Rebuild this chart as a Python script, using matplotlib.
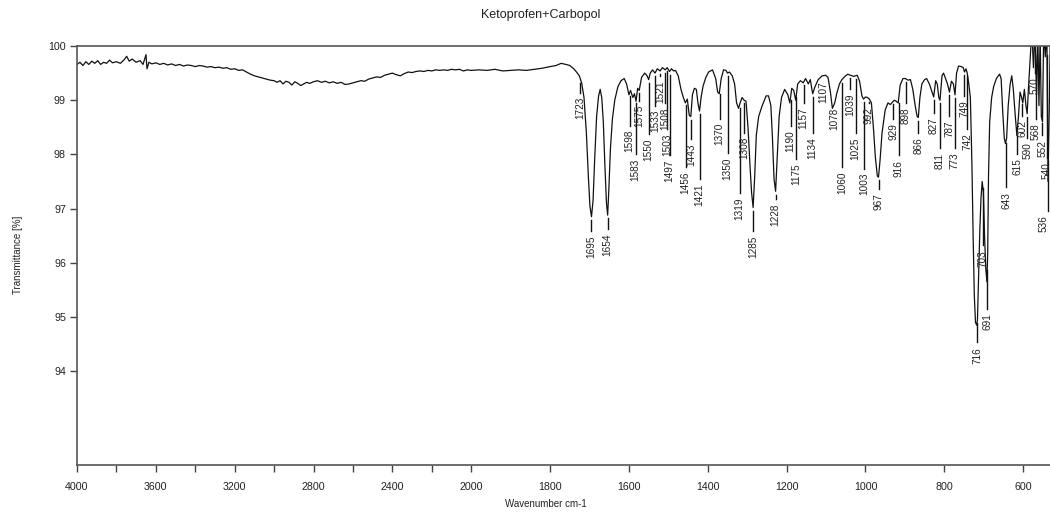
import numpy as np
import matplotlib
matplotlib.use("Agg")
import matplotlib.pyplot as plt
from matplotlib import font_manager

# ---------------- data ----------------
title = "Ketoprofen+Carbopol"
xlabel = "Wavenumber cm-1"
ylabel = "Transmittance [%]"

# high-wavenumber region (4000-1740 cm-1)
wn_high = [4000, 3985, 3970, 3955, 3940, 3925, 3910, 3895, 3880, 3865, 3850, 3835, 3820,
           3800, 3780, 3760, 3748, 3735, 3720, 3700, 3680, 3665, 3650, 3645, 3635, 3620,
           3600, 3580, 3560, 3540, 3520, 3500, 3480, 3460, 3440, 3420, 3400, 3380, 3360,
           3340, 3320, 3300, 3280, 3260, 3240, 3220, 3200, 3180, 3160, 3140, 3120, 3100,
           3080, 3060, 3040, 3020, 3000, 2985, 2970, 2955, 2940, 2925, 2910, 2895, 2880,
           2865, 2850, 2835, 2820, 2800, 2780, 2760, 2740, 2720, 2700, 2680, 2660, 2640,
           2620, 2600, 2580, 2560, 2540, 2520, 2500, 2480, 2460, 2440, 2420, 2400, 2380,
           2360, 2340, 2320, 2300, 2280, 2260, 2240, 2220, 2200, 2180, 2160, 2140, 2120,
           2100, 2080, 2060, 2040, 2020, 2000, 1980, 1960, 1940, 1920, 1900, 1880, 1860,
           1840, 1820, 1800, 1785, 1772, 1760, 1750, 1740]
t_high = [99.66, 99.70, 99.64, 99.71, 99.66, 99.72, 99.68, 99.73, 99.66, 99.70, 99.68, 99.74, 99.69,
          99.71, 99.68, 99.75, 99.81, 99.72, 99.76, 99.70, 99.73, 99.66, 99.84, 99.58, 99.70, 99.67,
          99.69, 99.66, 99.68, 99.65, 99.67, 99.64, 99.66, 99.63, 99.65, 99.64, 99.62, 99.64, 99.63,
          99.61, 99.62, 99.60, 99.61, 99.59, 99.60, 99.57, 99.58, 99.55, 99.56, 99.52, 99.48, 99.45,
          99.43, 99.41, 99.39, 99.37, 99.36, 99.33, 99.36, 99.30, 99.35, 99.33, 99.28, 99.34, 99.31,
          99.27, 99.30, 99.33, 99.31, 99.34, 99.36, 99.33, 99.35, 99.32, 99.34, 99.31, 99.33, 99.29,
          99.30, 99.32, 99.34, 99.36, 99.35, 99.39, 99.41, 99.43, 99.42, 99.46, 99.48, 99.50, 99.47,
          99.45, 99.49, 99.52, 99.51, 99.53, 99.54, 99.53, 99.55, 99.54, 99.56, 99.55, 99.56, 99.55,
          99.57, 99.56, 99.57, 99.54, 99.56, 99.55, 99.56, 99.55, 99.57, 99.54, 99.55, 99.56, 99.55,
          99.57, 99.59, 99.62, 99.64, 99.68, 99.66, 99.64, 99.58]

# fingerprint region (1733-531 cm-1)
wn_low = [1733, 1726, 1720, 1714, 1708, 1703, 1699, 1695, 1691, 1687, 1682, 1677, 1673, 1669,
          1665, 1661, 1657, 1654, 1651, 1647, 1642, 1636, 1628, 1620, 1612, 1606, 1600, 1596,
          1590, 1586, 1582, 1578, 1574, 1568, 1560, 1554, 1550, 1546, 1540, 1534, 1528, 1521,
          1515, 1508, 1503, 1497, 1492, 1487, 1482, 1475, 1468, 1462, 1457, 1452, 1447, 1443,
          1439, 1434, 1429, 1425, 1421, 1417, 1412, 1405, 1398, 1388, 1380, 1375, 1371, 1366,
          1360, 1354, 1350, 1345, 1338, 1332, 1327, 1322, 1318, 1313, 1308, 1303, 1298, 1293,
          1289, 1285, 1281, 1277, 1271, 1262, 1252, 1246, 1240, 1236, 1232, 1228, 1224, 1219,
          1213, 1205, 1197, 1192, 1187, 1182, 1177, 1172, 1165, 1158, 1152, 1145, 1140, 1134,
          1128, 1120, 1110, 1101, 1095, 1089, 1084, 1078, 1073, 1066, 1060, 1052, 1045, 1038,
          1030, 1021, 1015, 1009, 1005, 1000, 995, 990, 985, 980, 975, 970, 967, 963, 958,
          950, 943, 937, 932, 927, 922, 917, 912, 905, 899, 892, 886, 880, 874, 869, 866,
          862, 857, 850, 845, 838, 831, 827, 822, 818, 814, 811, 806, 802, 797, 792, 787,
          782, 777, 773, 769, 764, 757, 752, 749, 745, 742, 738, 734, 730, 727, 724, 721,
          718, 716, 713, 710, 707, 704, 701, 698, 695, 692, 690, 688, 685, 680, 675, 668,
          660, 656, 652, 648, 645, 642, 638, 633, 629, 625, 620, 616, 612, 608, 604, 601,
          597, 593, 590, 586, 582, 578, 574, 570, 566, 563, 560, 557, 554, 551, 548, 544,
          540, 537, 534, 531]
t_low = [99.52, 99.45, 99.32, 99.05, 98.40, 97.60, 97.05, 96.85, 97.15, 97.90, 98.70, 99.08, 99.20, 99.05,
         98.60, 97.80, 97.10, 96.88, 97.35, 98.10, 98.65, 99.00, 99.25, 99.36, 99.40, 99.30, 99.10, 99.18,
         99.05, 99.12, 98.98, 99.22, 99.18, 99.42, 99.50, 99.45, 99.38, 99.50, 99.56, 99.50, 99.58, 99.54,
         99.60, 99.56, 99.60, 99.53, 99.58, 99.54, 99.55, 99.45, 99.20, 99.05, 98.95, 99.02, 98.72, 98.70,
         99.10, 99.22, 99.20, 98.95, 98.80, 99.05, 99.26, 99.42, 99.52, 99.56, 99.40, 99.15, 99.12, 99.40,
         99.56, 99.55, 99.50, 99.52, 99.45, 99.30, 98.95, 98.85, 98.95, 99.05, 99.00, 98.98, 98.50, 97.80,
         97.30, 97.02, 97.60, 98.35, 98.70, 98.90, 99.08, 99.08, 98.90, 98.30, 97.55, 97.32, 97.95, 98.70,
         99.05, 99.20, 99.10, 98.95, 99.22, 99.18, 99.00, 99.30, 99.36, 99.32, 99.40, 99.30, 99.38, 99.12,
         99.25, 99.38, 99.45, 99.46, 99.42, 99.15, 98.85, 98.95, 99.12, 99.30, 99.38, 99.44, 99.48, 99.46,
         99.44, 99.46, 99.35, 99.08, 99.02, 99.06, 99.05, 99.02, 98.95, 98.50, 97.95, 97.60, 97.58, 97.90, 98.40,
         98.82, 98.95, 98.92, 98.96, 99.00, 98.98, 98.95, 99.28, 99.40, 99.40, 99.37, 99.38, 99.20, 98.90, 98.70, 98.68,
         99.05, 99.30, 99.38, 99.40, 99.30, 99.15, 99.06, 99.36, 99.30, 99.05, 99.00, 99.45, 99.50, 99.40, 99.30, 99.15,
         99.35, 99.30, 99.10, 99.50, 99.63, 99.62, 99.60, 99.52, 99.58, 99.50, 99.30, 99.05, 97.80, 96.50, 95.40, 94.90,
         94.85, 94.95, 95.80, 96.60, 97.20, 97.50, 97.30, 96.50, 95.90, 95.65, 96.20, 97.60, 98.60, 99.05, 99.25, 99.40,
         99.48, 99.40, 98.80, 98.30, 98.20, 98.30, 98.90, 99.30, 99.45, 99.20, 98.70, 98.35, 98.70, 99.15, 99.05, 98.95,
         99.20, 98.90, 98.75, 99.30, 99.80, 100.30, 99.60, 100.30, 99.10, 100.30, 98.90, 100.20, 98.70, 98.60, 100.30, 99.80,
         100.30, 97.50, 98.80, 100.30]

wavenumber = wn_high + wn_low
transmittance = t_high + t_low

# peak labels: wavenumber and top of the label text (in % transmittance)
peak_labels = [1723, 1695, 1654, 1598, 1583, 1575, 1550, 1533, 1521, 1508, 1503, 1497,
               1456, 1443, 1421, 1370, 1350, 1319, 1308, 1285, 1228, 1190, 1175, 1157,
               1134, 1107, 1078, 1060, 1039, 1025, 1003, 992, 967, 929, 916, 898, 866,
               827, 811, 787, 773, 749, 742, 716, 703, 691, 643, 615, 602, 590, 570,
               568, 552, 540, 536]
label_top = [99.06, 96.51, 96.55, 98.45, 97.93, 98.91, 98.30, 98.82, 99.36, 98.86, 98.38, 97.90,
             97.68, 98.21, 97.47, 98.58, 97.95, 97.21, 98.32, 96.51, 97.10, 98.45, 97.84, 98.87,
             98.32, 99.34, 98.87, 97.68, 99.13, 98.32, 97.66, 98.87, 97.29, 98.58, 97.90, 98.87, 98.32,
             98.69, 98.03, 98.63, 98.03, 99.00, 98.39, 94.45, 96.24, 95.07, 97.31, 97.93, 98.63, 98.22, 99.43,
             98.58, 98.27, 97.85, 96.88]

x_ticks = [4000, 3800, 3600, 3400, 3200, 3000, 2800, 2600, 2400, 2200, 2000,
           1800, 1600, 1400, 1200, 1000, 800, 600]
x_ticklabels = ["4000", "", "3600", "", "3200", "", "2800", "", "2400", "", "2000",
                "1800", "1600", "1400", "1200", "1000", "800", "600"]
y_ticks = [94, 95, 96, 97, 98, 99, 100]

# ---------------- fonts ----------------
names = {f.name for f in font_manager.fontManager.ttflist}
narrow = "Liberation Sans Narrow" if "Liberation Sans Narrow" in names else "Liberation Sans"
plt.rcParams['font.family'] = ['Liberation Sans', 'DejaVu Sans']
nsize = 1.0 if narrow == "Liberation Sans Narrow" else 0.85


# ---------------- axis with compressed scale above 2000 cm-1 ----------------
def fwd(x):
    x = np.asarray(x, dtype=float)
    return np.where(x > 2000, 2000 + (x - 2000) / 2.0, x)


def inv(y):
    y = np.asarray(y, dtype=float)
    return np.where(y > 2000, 2000 + (y - 2000) * 2.0, y)


fig = plt.figure(figsize=(10.5, 5.14), dpi=100)
ax = fig.add_axes([77 / 1050, 1 - 465 / 514, (1050 - 77) / 1050, (465 - 46) / 514])
ax.set_xscale('function', functions=(fwd, inv))
ax.set_xlim(4000, 532)
ax.set_ylim(92.27, 100)

ax.plot(wavenumber, transmittance, color='#111111', lw=0.9)

# peak labels
curve_x = np.array(wavenumber[::-1], dtype=float)
curve_y = np.array(transmittance[::-1], dtype=float)
for w, top in zip(peak_labels, label_top):
    yc = float(np.interp(w, curve_x, curve_y))
    y0 = min(yc, 99.9) - 0.06
    y1 = top + 0.08
    if y0 > y1:
        ax.plot([w, w], [y0, y1], color='#111111', lw=1.0)
    ha = 'right' if w == 536 else 'center'
    ax.text(w, top, str(w), rotation=90, ha=ha, va='top',
            fontsize=8.5 * nsize, family=[narrow, 'DejaVu Sans'], color='#222222')

ax.set_xticks(x_ticks)
ax.set_xticklabels(x_ticklabels)
ax.set_yticks(y_ticks)
ax.set_yticklabels([str(v) for v in y_ticks])
ax.minorticks_off()
ax.tick_params(axis='both', direction='out', length=5, width=1, color='#444444',
               labelsize=9 * nsize, labelcolor='#222222')
ax.tick_params(axis='x', pad=7)
ax.tick_params(axis='y', pad=3)
for lab in ax.get_xticklabels() + ax.get_yticklabels():
    lab.set_family([narrow, 'DejaVu Sans'])

for s in ['left', 'bottom', 'top']:
    ax.spines[s].set_color('#555555')
    ax.spines[s].set_linewidth(1.2)
ax.spines['right'].set_visible(False)

fig.text(541 / 1050, 1 - 15 / 514, title, ha='center', va='center', fontsize=9, color='#222222')
fig.text(546 / 1050, 1 - 504 / 514, xlabel, ha='center', va='center', fontsize=7, color='#222222')
fig.text(18 / 1050, 1 - 255 / 514, ylabel, ha='center', va='center', rotation=90, fontsize=7,
         color='#222222')

fig.savefig("out.png", dpi=100)
